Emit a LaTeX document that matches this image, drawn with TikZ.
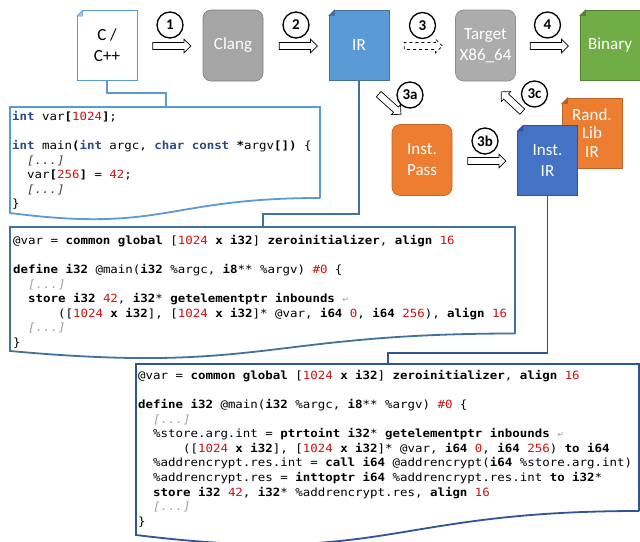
\documentclass[tikz,border=0pt]{standalone}
\usepackage{fontspec}
\setmainfont{Carlito}
\newfontfamily\codefont[FakeStretch=1.1]{DejaVu Sans Mono}
\newfontfamily\symfont{DejaVu Sans}
\usetikzlibrary{shapes.arrows}
\definecolor{lblue}{HTML}{5B9BD5}
\definecolor{mblue}{HTML}{41719C}
\definecolor{dblue}{HTML}{2F5597}
\definecolor{iblue}{HTML}{4472C4}
\definecolor{ggreen}{HTML}{70AD47}
\definecolor{oorange}{HTML}{ED7D31}
\definecolor{ggray}{HTML}{A5A5A5}
\definecolor{tgray}{HTML}{ACACAC}
\definecolor{kwblue}{HTML}{2B4A86}
\definecolor{numred}{HTML}{D01010}
\definecolor{elgray}{HTML}{A0A0A0}
\definecolor{eldark}{HTML}{404040}
\newcommand\kw[1]{\textbf{#1}}
\newcommand\kb[1]{\textcolor{kwblue}{\textbf{#1}}}
\newcommand\nm[1]{\textcolor{numred}{#1}}
\newcommand\elg{\textcolor{elgray}{\textit{[...]}}}
\newcommand\eld{\textcolor{eldark}{\textit{[...]}}}
\newcommand\contmark{{\symfont\fontsize{8}{8}\selectfont\textcolor{elgray}{↵}}}
\newcommand\twosp{\hphantom{00}}
\newcommand\sixsp{\hphantom{000000}}
\newcommand\docfold[3]{%
  \fill[white] ([shift={(-1,-1)}]#1.north west) -- ++(8,0) -- ++(-8,8) -- cycle;
  \filldraw[fill=#2, draw=#3, line width=0.5pt] ([shift={(0,6)}]#1.north west) -- ([shift={(6,0)}]#1.north west) -- ([shift={(6,6)}]#1.north west) -- cycle;}
\tikzset{
  lbl/.style={text=white, align=center, font=\fontsize{17}{21}\selectfont},
  proc/.style={lbl, rectangle, rounded corners=8pt, minimum width=60pt, minimum height=71pt, inner sep=0pt, line width=0.6pt},
  docbox/.style={lbl, rectangle, minimum width=60pt, minimum height=70pt, inner sep=0pt, line width=0.6pt},
  num/.style={circle, draw=black, line width=1.3pt, fill=white, minimum size=26pt, inner sep=0pt, font=\bfseries\fontsize{15}{15}\selectfont},
  blk/.style={single arrow, draw=black, line width=0.7pt, fill=white, inner sep=3.2pt, single arrow head extend=3.2pt, minimum height=38pt},
  wire/.style={line width=1.8pt},
  codeframe/.style={line width=1.8pt, fill=white},
  codetext/.style={anchor=north west, inner sep=0pt, align=left, font=\codefont\fontsize{11.3}{14.6}\selectfont},
}
\begin{document}
\begin{tikzpicture}[x=1pt, y=-1pt]
\useasboundingbox (0,0) rectangle (640,541);

% ---------- code frames ----------
\draw[codeframe, draw=lblue] (320,198) -- (320,107) -- (10,107) -- (10,213)
  .. controls (165,233) and (165,198) .. (320,198);
\draw[codeframe, draw=mblue] (515,333.5) -- (515,227) -- (10,227) -- (10,351)
  .. controls (262.5,374) and (262.5,333.5) .. (515,333.5);
\draw[codeframe, draw=dblue] (639,511) -- (639,364) -- (136,364) -- (136,535)
  .. controls (387.5,566) and (387.5,511) .. (639,511);
\coordinate (f1) at (166,107);
\coordinate (f2) at (263,227);
\coordinate (f3) at (388,364);

\node[codetext] (code1) at (12,111) {%
\kb{int} var\kw{[}\nm{1024}\kw{]};\\
\mbox{}\\
\kb{int} main\kw{(}\kb{int} argc, \kb{char} \kb{const} \kw{*}argv\kw{[])} \{\\
\twosp\eld\\
\twosp var\kw{[}\nm{256}\kw{]} = \nm{42};\\
\twosp\eld\\
\}};

\node[codetext] (code2) at (13,235) {%
@var = \kw{common global} [\nm{1024} \kw{x i32}] \kw{zeroinitializer}, \kw{align} \nm{16}\\
\mbox{}\\
\kw{define i32} @main(\kw{i32} \%argc, \kw{i8}** \%argv) \nm{\#0} \{\\
\twosp\elg\\
\twosp\kw{store i32} \nm{42}, \kw{i32}* \kw{getelementptr inbounds} \contmark\\
\sixsp([\nm{1024} \kw{x i32}], [\nm{1024} \kw{x i32}]* @var, \kw{i64} \nm{0}, \kw{i64} \nm{256}), \kw{align} \nm{16}\\
\twosp\elg\\
\}};

\node[codetext] (code3) at (138,370) {%
@var = \kw{common global} [\nm{1024} \kw{x i32}] \kw{zeroinitializer}, \kw{align} \nm{16}\\
\mbox{}\\
\kw{define i32} @main(\kw{i32} \%argc, \kw{i8}** \%argv) \nm{\#0} \{\\
\twosp\elg\\
\twosp\%store.arg.int = \kw{ptrtoint i32}* \kw{getelementptr inbounds} \contmark\\
\sixsp([\nm{1024} \kw{x i32}], [\nm{1024} \kw{x i32}]* @var, \kw{i64} \nm{0}, \kw{i64} \nm{256}) \kw{to i64}\\
\twosp\%addrencrypt.res.int = \kw{call i64} @addrencrypt(\kw{i64} \%store.arg.int)\\
\twosp\%addrencrypt.res = \kw{inttoptr i64} \%addrencrypt.res.int \kw{to i32}*\\
\twosp\kw{store i32} \nm{42}, \kw{i32}* \%addrencrypt.res, \kw{align} \nm{16}\\
\twosp\elg\\
\}};

% ---------- top row ----------
\node[docbox, fill=white, draw=lblue, text=black] (cpp) at (107,45.5) {C /\\C++};
\docfold{cpp}{lblue!55!white}{lblue}
\node[proc, fill=ggray, draw=ggray!75!black] (clang) at (233,45.5) {Clang};
\node[docbox, fill=lblue, draw=mblue] (ir) at (359,45) {IR};
\docfold{ir}{mblue}{mblue}
\node[proc, fill=tgray, draw=tgray!80!black] (target) at (485.5,45.5) {Target\\X86\_64};
\node[docbox, fill=ggreen, draw=ggreen!75!black] (binary) at (610,45) {Binary};
\docfold{binary}{ggreen!75!black}{ggreen!75!black}

\node[proc, fill=oorange, draw=oorange!80!black] (pass) at (422,160) {Inst.\\Pass};
\node[docbox, fill=oorange, draw=oorange!80!black, font=\fontsize{17}{18.5}\selectfont] (randlib) at (592,133) {Rand.\\Lib\\IR};
\docfold{randlib}{oorange!75!black}{oorange!75!black}
\node[docbox, fill=iblue, draw=dblue] (instir) at (547.5,160.5) {Inst.\\IR};
\docfold{instir}{dblue}{dblue}

% ---------- block arrows ----------
\node[blk] (a1) at (170,46) {};
\node[blk] (a2) at (296.5,46) {};
\node[blk, dashed] (a3) at (421.5,46) {};
\node[blk] (a4) at (547.5,46) {};
\node[blk, minimum height=30pt, rotate=-42] (a3a) at (388.5,103) {};
\node[blk, minimum height=38pt] (a3b) at (485,161) {};
\node[blk, minimum height=29pt, rotate=137] (a3c) at (513,103) {};

\node[num] (n1) at (170,25) {1};
\node[num] (n2) at (296,25) {2};
\node[num] (n3) at (422.5,25.5) {3};
\node[num] (n4) at (547.5,25) {4};
\node[num] (n3a) at (410,95) {3a};
\node[num] (n3b) at (485,141) {3b};
\node[num] (n3c) at (534.5,94) {3c};

% ---------- connectors ----------
\draw[wire, draw=lblue] (cpp.south) -- ++(0,12) -| (f1);
\draw[wire, draw=mblue] (ir.south) -- ++(0,134) -| (f2);
\draw[wire, draw=dblue] (instir.south) -- ++(0,157) -| (f3);
\end{tikzpicture}
\end{document}
